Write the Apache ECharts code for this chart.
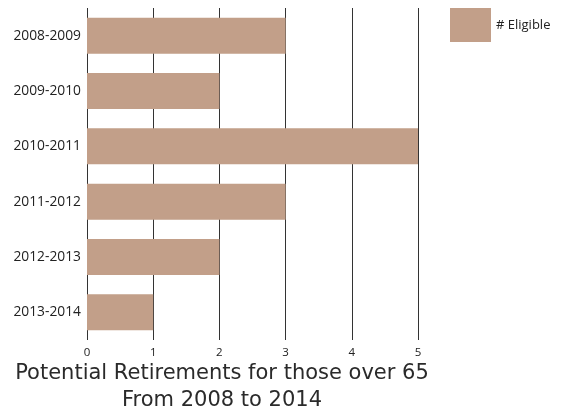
<!DOCTYPE html>
<html>
<head>
<meta charset="utf-8">
<script src="https://cdn.jsdelivr.net/npm/echarts@6/dist/echarts.min.js"></script>
<style>
  html, body { margin: 0; padding: 0; background: #fff; }
  #chart { width: 571px; height: 414px; }
</style>
</head>
<body>
<div id="chart"></div>
<script>
// Fiscal-year periods and number of staff eligible to retire in each
const periods = ['2008-2009', '2009-2010', '2010-2011', '2011-2012', '2012-2013', '2013-2014'];
const eligible = [3, 2, 5, 3, 2, 1];
const seriesName = '# Eligible';
const titleLines = ['Potential Retirements for those over 65', 'From 2008 to 2014'];

const FONT = '"Open Sans", "DejaVu Sans", sans-serif';
const TITLE_FONT = '"DejaVu Sans", sans-serif';

const chart = echarts.init(document.getElementById('chart'), null, { renderer: 'canvas' });
chart.setOption({
  animation: false,
  backgroundColor: '#ffffff',
  textStyle: { fontFamily: FONT },
  title: {
    text: titleLines.join('\n'),
    left: 222,
    top: 360,
    padding: 0,
    textAlign: 'center',
    textStyle: {
      fontSize: 21,
      fontWeight: 'normal',
      color: '#2a2a2a',
      lineHeight: 27,
      fontFamily: TITLE_FONT
    }
  },
  legend: {
    data: [seriesName],
    left: 450,
    top: 8,
    padding: 0,
    itemWidth: 41,
    itemHeight: 34,
    itemGap: 5,
    icon: 'rect',
    textStyle: { fontSize: 13, color: '#222', fontFamily: FONT }
  },
  grid: { left: 87, right: 153, top: 8, bottom: 74, containLabel: false },
  xAxis: {
    type: 'value',
    min: 0,
    max: 5,
    interval: 1,
    axisLine: { show: false },
    axisTick: { show: false },
    axisLabel: { color: '#222', fontSize: 11.5, margin: 7, fontFamily: FONT },
    splitLine: { show: true, lineStyle: { color: '#333', width: 1 } }
  },
  yAxis: {
    type: 'category',
    data: periods,
    inverse: true,
    axisLine: { show: false },
    axisTick: { show: false },
    axisLabel: { color: '#222', fontSize: 13.8, margin: 6, fontFamily: FONT },
    splitLine: { show: false }
  },
  series: [{
    name: seriesName,
    type: 'bar',
    data: eligible,
    barCategoryGap: '35%',
    itemStyle: { color: '#c29f89' }
  }]
});
</script>
</body>
</html>
